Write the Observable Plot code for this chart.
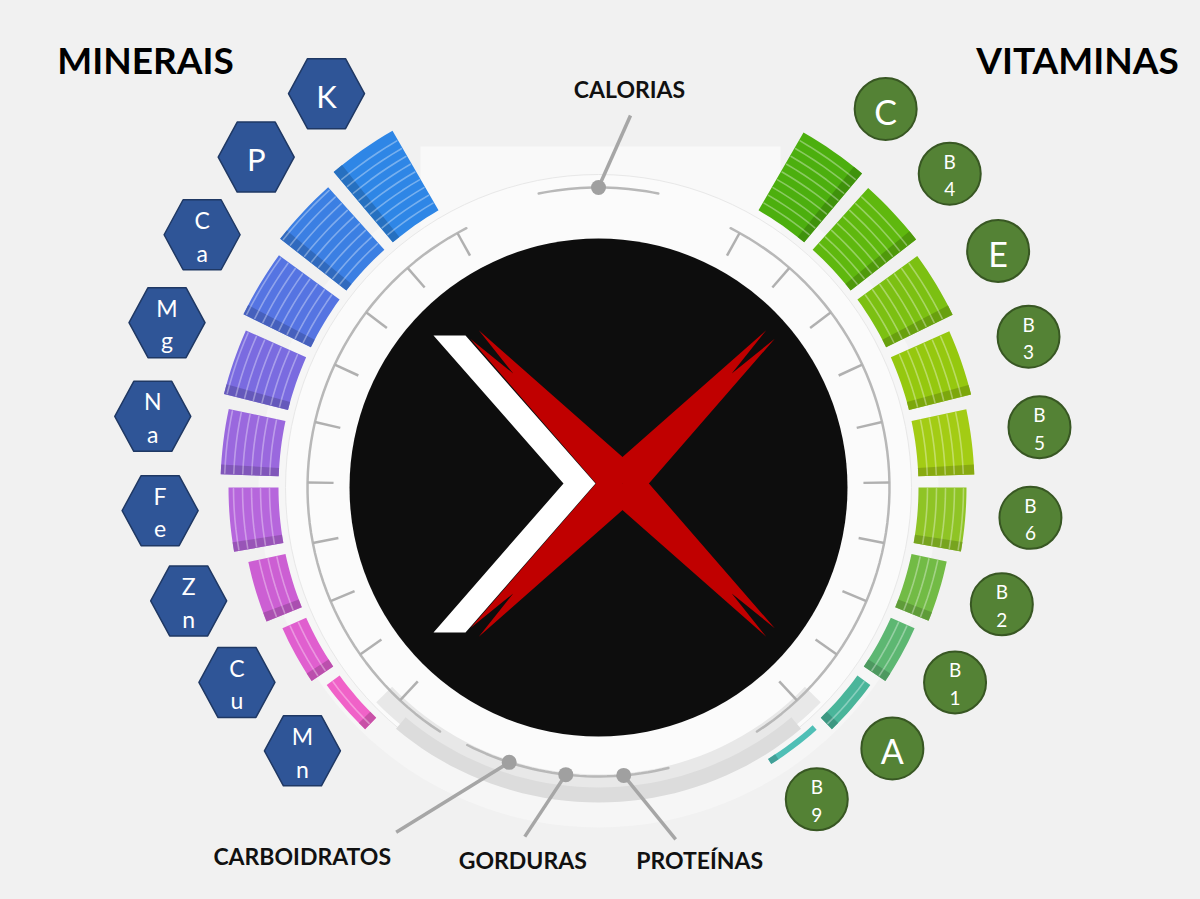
<!DOCTYPE html>
<html><head><meta charset="utf-8">
<script src="https://cdn.jsdelivr.net/npm/d3@7"></script>
<script src="https://cdn.jsdelivr.net/npm/@observablehq/plot@0.6"></script>
<style>
html,body{margin:0;padding:0;background:#f1f1f1;}
#chart{width:1200px;height:899px;overflow:hidden;}
</style></head><body><div id="chart"></div>
<script>
// ---------------- data ----------------
const minerals = ["K", "P", "Ca", "Mg", "Na", "Fe", "Zn", "Cu", "Mn"];
const mineralValues = [92, 84, 75, 66, 58, 50, 38, 26, 16];
const mineralColors = ["#2e86e6", "#3b7fe3", "#5574e2", "#7a6be0", "#9a68de", "#b666dc", "#cc5fd3", "#e05fcf", "#f062c8"];
const vitamins = ["C", "B4", "E", "B3", "B5", "B6", "B2", "B1", "A", "B9"];
const vitaminValues = [90, 83, 74, 64, 56, 48, 36, 26, 16, 6];
const vitaminColors = ["#4caf0e", "#5fb80e", "#7cc012", "#95c80f", "#a3cc14", "#8fc425", "#72bb45", "#5db772", "#4ab59a", "#4fbfb6"];
const macroLabels = ["CARBOIDRATOS", "GORDURAS", "PROTEÍNAS"];
const energyLabels = ["CALORIAS"];
const groupTitles = ["MINERAIS", "VITAMINAS"];

// ---------------- layout ----------------
const L = {
  cx: 598, cy: 487, rDisc: 249, rTickIn: 265, rArc: 291, rRing: 305, rBar: 320,
  barStart: 35, barStep: 12, barHalf: 5, stripeStep: 9,
  badge: {dy: -56, r: 415, left: {dx: -31, start: 35.5, step: 13.1}, right: {dx: 26, start: 39, step: 12.6}},
  tickStart: 29, tickCount: 10, arcSpan: [27, 147],
  rMacro: 289, macroAngles: [198, 186.5, 175], macroArc: [166, 207],
  rEnergy: 300, energyArc: [-11.5, 11.5],
  macroLeader: [[-113, 70], [-41, 62], [52, 64]],
  macroText: [[-94, 25], [-2, 25], [24, 22]],
  energyLeader: [32, -72], energyText: [-1, -25],
  titles: [[145, 62], [1077, 62]]
};
const rad = d => d * Math.PI / 180;
const polAt = (cx, cy, r, a) => [cx + r * Math.sin(rad(a)), cy - r * Math.cos(rad(a))];
const pol = (r, a) => polAt(L.cx, L.cy, r, a);
const arc = (r, a0, a1, n = 24) => d3.range(n + 1).map(i => pol(r, a0 + (a1 - a0) * i / n));
const rScale = d3.scaleLinear().domain([0, 100]).range([L.rBar, L.rBar + 100]);

let polyId = 0;
const polyRows = (pts, fill) => { const id = polyId++; return pts.map(([x, y]) => ({id, x, y, fill})); };

// bars
function makeBars(names, values, colors, sign) {
  return names.map((name, i) => {
    const a = sign * (L.barStart + L.barStep * i);
    return {name, i, a, sign, r0: L.rBar, r1: rScale(values[i]), color: colors[i]};
  });
}
const bars = makeBars(minerals, mineralValues, mineralColors, -1).concat(makeBars(vitamins, vitaminValues, vitaminColors, 1));

const barPolys = [], darkPolys = [], stripes = [];
let stripeId = 0;
for (const b of bars) {
  const a0 = b.a - L.barHalf, a1 = b.a + L.barHalf;
  barPolys.push(...polyRows(arc(b.r0, a0, a1, 8).concat(arc(b.r1, a1, a0, 8)), b.color));
  const side = b.a + b.sign * L.barHalf, inner = side - b.sign * 1.5;
  darkPolys.push(...polyRows(arc(b.r0, side, inner, 2).concat(arc(b.r1, inner, side, 2)), d3.color(b.color).darker(0.7).formatHex()));
  for (let r = b.r0 + L.stripeStep; r < b.r1 - 2; r += L.stripeStep) {
    const id = stripeId++;
    arc(r, a0 + 0.2, a1 - 0.2, 6).forEach(([x, y]) => stripes.push({id, x, y}));
  }
}

// badges
const hexRows = [], hexLabels = [], circles = [];
bars.forEach(b => {
  const side = b.sign < 0 ? L.badge.left : L.badge.right;
  const [x, y] = polAt(L.cx + side.dx, L.cy + L.badge.dy, L.badge.r, b.sign * (side.start + side.step * b.i));
  const label = b.name.split("").join("\n");
  if (b.sign < 0) {
    const rx = 38, ry = 35;
    hexRows.push(...polyRows([[x + rx, y], [x + rx / 2, y + ry], [x - rx / 2, y + ry], [x - rx, y], [x - rx / 2, y - ry], [x + rx / 2, y - ry]], "#2f5597"));
    hexLabels.push({x, y, label, size: b.name.length > 1 ? 23 : 31});
  } else {
    circles.push({x, y, label, size: b.name.length > 1 ? 19 : 34});
  }
});

// ring decorations
const ticks = d3.range(L.tickCount).flatMap(k => [-1, 1].map(s => {
  const a = s * (L.tickStart + 12 * k);
  const [x1, y1] = pol(L.rTickIn, a), [x2, y2] = pol(L.rArc, a);
  return {x1, y1, x2, y2};
}));
const arcLines = [
  ...arc(L.rArc, -L.arcSpan[0], -L.arcSpan[1], 60).map(([x, y]) => ({x, y, g: "left"})),
  ...arc(L.rArc, L.arcSpan[0], L.arcSpan[1], 60).map(([x, y]) => ({x, y, g: "right"})),
  ...arc(L.rEnergy, L.energyArc[0], L.energyArc[1], 20).map(([x, y]) => ({x, y, g: "top"})),
  ...arc(L.rMacro, L.macroArc[0], L.macroArc[1], 30).map(([x, y]) => ({x, y, g: "bottom"}))
];
const [ex, ey] = pol(L.rEnergy, 0);
const nodeDots = [{x: ex, y: ey}].concat(L.macroAngles.map(a => { const [x, y] = pol(L.rMacro, a); return {x, y}; }));
const leaders = [{x1: ex, y1: ey, x2: ex + L.energyLeader[0], y2: ey + L.energyLeader[1]}]
  .concat(L.macroAngles.map((a, i) => { const [x, y] = pol(L.rMacro, a); return {x1: x, y1: y, x2: x + L.macroLeader[i][0], y2: y + L.macroLeader[i][1]}; }));
const labelTexts = [{x: leaders[0].x2 + L.energyText[0], y: leaders[0].y2 + L.energyText[1], text: energyLabels[0]}]
  .concat(macroLabels.map((t, i) => ({x: leaders[i + 1].x2 + L.macroText[i][0], y: leaders[i + 1].y2 + L.macroText[i][1], text: t})));
const titleTexts = groupTitles.map((t, i) => ({x: L.titles[i][0], y: L.titles[i][1], text: t}));

// background shapes
const bgRows = [];
bgRows.push(...polyRows([[L.cx - 178, 146], [L.cx + 182, 146], [L.cx + 182, L.cy], [L.cx - 178, L.cy]], "#f9f9f9"));
const baseRows = [];
baseRows.push(...polyRows(arc(L.rRing - 18, 134, 226, 40).concat(arc(L.rRing + 4, 226, 134, 40)), "#e8e8e8"));
baseRows.push(...polyRows(arc(L.rRing - 5, 140, 220, 40).concat(arc(L.rRing + 10, 220, 140, 40)), "#dcdcdc"));

// logo
const LC = [L.cx + 24, L.cy - 4];
const redRows = [];
[[-1, -1], [1, -1], [1, 1], [-1, 1]].forEach(([sx, sy]) => {
  const T = [LC[0] + 148 * sx, LC[1] + 149 * sy];
  const len = Math.hypot(T[0] - LC[0], T[1] - LC[1]);
  const u = [(T[0] - LC[0]) / len, (T[1] - LC[1]) / len], p = [-u[1], u[0]];
  const w = 20, f = 6;
  redRows.push(...polyRows([
    [LC[0] + p[0] * w, LC[1] + p[1] * w],
    [T[0] + p[0] * f, T[1] + p[1] * f],
    [T[0] - u[0] * 55, T[1] - u[1] * 55],
    [T[0] - p[0] * f, T[1] - p[1] * f],
    [LC[0] - p[0] * w, LC[1] - p[1] * w]
  ], "#c00000"));
});
const whiteRows = polyRows([[-189, -148], [-157, -148], [-27, 0], [-157, 149], [-189, 149], [-59, 0]].map(([dx, dy]) => [LC[0] + dx, LC[1] + dy]), "#ffffff");

const center = [{x: L.cx, y: L.cy}];
const polyMark = (rows, extra = {}) => Plot.line(rows, {x: "x", y: "y", z: "id", fill: "fill", stroke: "none", curve: "linear-closed", ...extra});

const chart = Plot.plot({
  width: 1200, height: 899, margin: 0,
  x: {domain: [0, 1200], range: [0, 1200], axis: null},
  y: {domain: [0, 899], range: [0, 899], axis: null},
  color: {type: "identity"},
  style: {background: "#f1f1f1", fontFamily: "Lato, 'Open Sans', sans-serif", overflow: "hidden"},
  marks: [
    Plot.dot(center, {x: "x", y: "y", r: L.rBar + 20, fill: "#f6f6f6", stroke: "none"}),
    polyMark(bgRows),
    Plot.dot(center, {x: "x", y: "y", r: L.rRing + 8, fill: "#fbfbfb", stroke: "#e8e8e8", strokeWidth: 1}),
    polyMark(baseRows),
    Plot.dot(center, {x: "x", y: "y", r: L.rDisc, fill: "#0d0d0d", stroke: "none"}),
    polyMark(redRows),
    polyMark(whiteRows),
    Plot.line(arcLines, {x: "x", y: "y", z: "g", stroke: "#b8b8b8", strokeWidth: 2.5}),
    Plot.link(ticks, {x1: "x1", y1: "y1", x2: "x2", y2: "y2", stroke: "#b0b0b0", strokeWidth: 2.5}),
    polyMark(barPolys),
    polyMark(darkPolys, {fillOpacity: 0.75}),
    Plot.line(stripes, {x: "x", y: "y", z: "id", stroke: "#ffffff", strokeOpacity: 0.35, strokeWidth: 1.6}),
    Plot.link(leaders, {x1: "x1", y1: "y1", x2: "x2", y2: "y2", stroke: "#a6a6a6", strokeWidth: 3.5}),
    Plot.dot(nodeDots, {x: "x", y: "y", r: 7.5, fill: "#a0a0a0", stroke: "none"}),
    polyMark(hexRows, {stroke: "#1f3864", strokeWidth: 1.5}),
    Plot.text(hexLabels, {x: "x", y: "y", text: "label", fill: "#ffffff", fontSize: d => d.size, lineHeight: 1.42}),
    Plot.dot(circles, {x: "x", y: "y", r: 31, fill: "#548235", stroke: "#385723", strokeWidth: 2}),
    Plot.text(circles, {x: "x", y: "y", text: "label", fill: "#ffffff", fontSize: d => d.size, lineHeight: 1.45}),
    Plot.text(labelTexts, {x: "x", y: "y", text: "text", fill: "#111111", fontSize: 23, fontWeight: "bold"}),
    Plot.text(titleTexts, {x: "x", y: "y", text: "text", fill: "#000000", fontSize: 37, fontWeight: "bold"})
  ]
});
document.getElementById("chart").appendChild(chart);
</script>
</body></html>
